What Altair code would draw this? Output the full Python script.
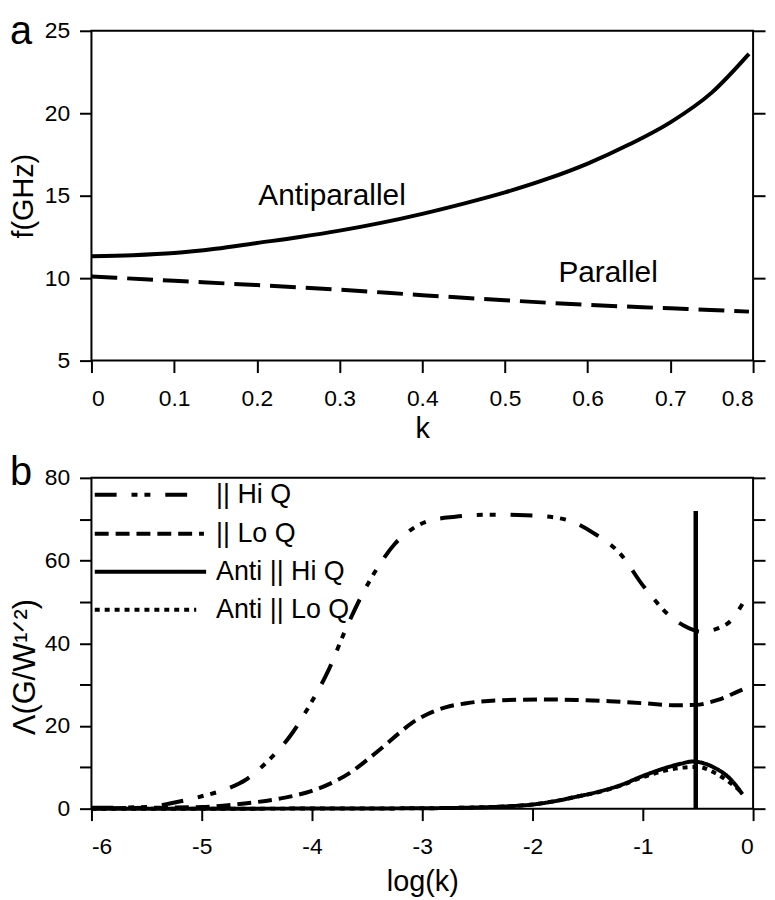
import altair as alt
import pandas as pd

FONT = "Liberation Sans"

# ---------------- panel a data ----------------
k_anti = [0, 0.05, 0.1, 0.15, 0.2, 0.25, 0.3, 0.35, 0.4, 0.45, 0.5, 0.55, 0.6, 0.65, 0.7, 0.75, 0.795]
f_anti = [11.33, 11.39, 11.52, 11.78, 12.13, 12.48, 12.88, 13.35, 13.9, 14.52, 15.2, 16.0, 16.95, 18.1, 19.45, 21.25, 23.6]
k_par = [0, 0.1, 0.2, 0.3, 0.4, 0.5, 0.6, 0.7, 0.795]
f_par = [10.1, 9.84, 9.58, 9.3, 8.97, 8.66, 8.38, 8.17, 7.97]
a_labels = ["Antiparallel", "Parallel"]
a_label_k = [0.2018, 0.5646]
a_label_f = [14.46, 9.76]
a_xticks = [0, 0.1, 0.2, 0.3, 0.4, 0.5, 0.6, 0.7, 0.8]
a_yticks = [5, 10, 15, 20, 25]

# ---------------- panel b data ----------------
hiq_x = [-6.0, -5.5, -5.3, -5.0, -4.75, -4.6, -4.4, -4.2, -4.0, -3.85, -3.7, -3.55, -3.4, -3.25, -3.1,
         -2.95, -2.7, -2.4, -2.0, -1.7, -1.45, -1.2, -1.0, -0.9, -0.76, -0.63, -0.47, -0.32, -0.2, -0.097]
hiq_y = [0.2, 0.4, 1.2, 3.0, 5.0, 7.0, 11.5, 17.5, 26.0, 33.5, 43.0, 51.5, 58.5, 64.0, 67.5,
         69.5, 70.6, 71.1, 70.9, 69.9, 66.7, 61.5, 54.0, 50.7, 46.7, 44.3, 42.8, 43.6, 45.5, 49.5]
loq_x = [-6.0, -5.5, -5.0, -4.7, -4.5, -4.26, -4.0, -3.8, -3.66, -3.5, -3.33, -3.2, -3.09, -2.95, -2.79,
         -2.6, -2.3, -1.9, -1.6, -1.3, -1.0, -0.7, -0.52, -0.32, -0.14, -0.097]
loq_y = [0.1, 0.2, 0.4, 1.0, 1.6, 2.6, 4.3, 6.5, 8.6, 11.8, 15.5, 18.5, 20.8, 22.9, 24.5,
         25.5, 26.2, 26.4, 26.3, 26.0, 25.5, 25.0, 25.1, 26.3, 28.3, 28.8]
ahi_x = [-6.0, -5.0, -4.0, -3.0, -2.5, -2.2, -2.0, -1.8, -1.6, -1.4, -1.2, -1.0, -0.8, -0.65, -0.55,
         -0.45, -0.35, -0.2, -0.097]
ahi_y = [0.0, 0.0, 0.02, 0.1, 0.3, 0.6, 1.0, 1.8, 2.9, 4.1, 5.7, 7.9, 9.8, 10.9, 11.4,
         11.0, 9.9, 7.0, 3.5]
alo_x = [-6.0, -5.0, -4.0, -3.0, -2.5, -2.2, -2.0, -1.8, -1.6, -1.4, -1.2, -1.0, -0.8, -0.65, -0.5,
         -0.35, -0.23, -0.097]
alo_y = [0.0, 0.0, 0.02, 0.1, 0.3, 0.6, 1.0, 1.8, 2.9, 4.0, 5.6, 7.6, 9.2, 9.9, 10.1,
         8.7, 6.7, 3.8]
vline_x = [-0.52]
vline_y = [0]
vline_y2 = [72]

series = ["|| Hi Q", "|| Lo Q", "Anti || Hi Q", "Anti || Lo Q"]
dash_patterns = [[22, 15, 6, 7, 6, 15], [14, 7], [1, 0], [5, 5]]
line_widths = [4, 4, 3, 2.5]
legend_y = [75.9, 66.5, 57.3, 48.1]
legend_x1 = [-5.97, -5.97, -5.97, -5.97]
legend_x2 = [-5.07, -4.98, -4.96, -5.05]
legend_text_x = [-4.87, -4.87, -4.87, -4.87]
b_xticks = [-6, -5, -4, -3, -2, -1, 0]
b_yticks = [0, 10, 20, 30, 40, 50, 60, 70, 80]

panel_letters = ["a", "b"]

# ---------------- build tables ----------------
df_anti = pd.DataFrame({"k": k_anti, "f": f_anti})
df_par = pd.DataFrame({"k": k_par, "f": f_par})
df_alab = pd.DataFrame({"label": a_labels, "k": a_label_k, "f": a_label_f})

rows = []
for name, xs, ys in zip(series, [hiq_x, loq_x, ahi_x, alo_x], [hiq_y, loq_y, ahi_y, alo_y]):
    for xv, yv in zip(xs, ys):
        rows.append({"series": name, "x": xv, "y": yv})
df_b = pd.DataFrame(rows)
df_v = pd.DataFrame({"x": vline_x, "y": vline_y, "y2": vline_y2})
df_leg = pd.DataFrame({"series": series, "y": legend_y, "x1": legend_x1,
                       "x2": legend_x2, "tx": legend_text_x})

W = 666
HA = 332
HB = 333

# ---------------- panel a ----------------
xa_scale = alt.Scale(domain=[0, 0.8], nice=False, zero=False)
ya_scale = alt.Scale(domain=[5, 25], nice=False, zero=False)
xa_axis = alt.Axis(values=a_xticks, format=".1~f", title="k", labelPadding=15, titlePadding=4)
ya_left = alt.Axis(values=a_yticks, title="f(GHz)", orient="left", labelPadding=10, titlePadding=6)
ya_right = alt.Axis(values=a_yticks, title=None, orient="right", labels=False)

a_anti = alt.Chart(df_anti).mark_line(color="black", strokeWidth=4, interpolate="monotone").encode(
    x=alt.X("k:Q", scale=xa_scale, axis=xa_axis),
    y=alt.Y("f:Q", scale=ya_scale, axis=ya_left),
)
a_par = alt.Chart(df_par).mark_line(color="black", strokeWidth=4, strokeDash=[26, 10],
                                    interpolate="monotone").encode(
    x=alt.X("k:Q", scale=xa_scale, axis=xa_axis),
    y=alt.Y("f:Q", scale=ya_scale, axis=ya_right),
)
a_txt = alt.Chart(df_alab).mark_text(align="left", baseline="alphabetic", fontSize=30,
                                     font=FONT, color="black").encode(
    x=alt.X("k:Q", scale=xa_scale, axis=xa_axis),
    y=alt.Y("f:Q", scale=ya_scale, axis=None),
    text="label:N",
)
a_letter = alt.Chart(pd.DataFrame({"t": [panel_letters[0]]})).mark_text(
    align="left", baseline="alphabetic", fontSize=40, font=FONT, color="black").encode(
    x=alt.value(-82), y=alt.value(13), text="t:N")

panel_a = alt.layer(a_anti, a_par, a_txt, a_letter).resolve_axis(y="independent").properties(
    width=W, height=HA)

# ---------------- panel b ----------------
xb_scale = alt.Scale(domain=[-6, 0], nice=False, zero=False)
yb_scale = alt.Scale(domain=[0, 80], nice=False, zero=False)
xb_axis = alt.Axis(values=b_xticks, labelExpr="'' + datum.value", title="log(k)",
                   labelPadding=15, titlePadding=9)
yb_left = alt.Axis(values=b_yticks, labelExpr="datum.value % 20 == 0 ? datum.label : ''",
                   title="\u039b(G/W\u00b9\u141f\u00b2)", orient="left", labelPadding=10,
                   titlePadding=3, titleY=190, titleFontSize=31, titleLimit=600)
yb_right = alt.Axis(values=b_yticks, title=None, orient="right", labels=False)

dash_enc = alt.StrokeDash("series:N", scale=alt.Scale(domain=series, range=dash_patterns), legend=None)
width_enc = alt.StrokeWidth("series:N", scale=alt.Scale(domain=series, range=line_widths), legend=None)

b_lines = alt.Chart(df_b).mark_line(color="black", interpolate="monotone").encode(
    x=alt.X("x:Q", scale=xb_scale, axis=xb_axis),
    y=alt.Y("y:Q", scale=yb_scale, axis=yb_left),
    strokeDash=dash_enc,
    strokeWidth=width_enc,
    detail="series:N",
)
b_vline = alt.Chart(df_v).mark_rule(color="black", strokeWidth=4.5).encode(
    x=alt.X("x:Q", scale=xb_scale, axis=xb_axis),
    y=alt.Y("y:Q", scale=yb_scale, axis=yb_right),
    y2="y2:Q",
)
b_legline = alt.Chart(df_leg).mark_rule(color="black").encode(
    x=alt.X("x1:Q", scale=xb_scale, axis=xb_axis),
    x2="x2:Q",
    y=alt.Y("y:Q", scale=yb_scale, axis=None),
    strokeDash=dash_enc,
    strokeWidth=width_enc,
)
b_legtext = alt.Chart(df_leg).mark_text(align="left", baseline="middle", fontSize=27,
                                        font=FONT, color="black").encode(
    x=alt.X("tx:Q", scale=xb_scale, axis=xb_axis),
    y=alt.Y("y:Q", scale=yb_scale, axis=None),
    text="series:N",
)
b_letter = alt.Chart(pd.DataFrame({"t": [panel_letters[1]]})).mark_text(
    align="left", baseline="alphabetic", fontSize=40, font=FONT, color="black").encode(
    x=alt.value(-82), y=alt.value(7), text="t:N")

panel_b = alt.layer(b_lines, b_vline, b_legline, b_legtext, b_letter).resolve_axis(
    y="independent").properties(width=W, height=HB)

chart = alt.vconcat(panel_a, panel_b, spacing=8).properties(
    padding={"left": 0, "top": 0, "right": 0, "bottom": 0}
).configure_view(stroke="black", strokeWidth=2).configure_axis(
    domain=False, grid=False, tickColor="black", tickWidth=2, tickSize=12,
    labelColor="black", labelFont=FONT, labelFontSize=23,
    titleFont=FONT, titleFontSize=29, titleFontWeight="normal", titleColor="black",
).configure_text(font=FONT)

chart.save("out.html", embed_options={"renderer": "svg", "actions": False})
